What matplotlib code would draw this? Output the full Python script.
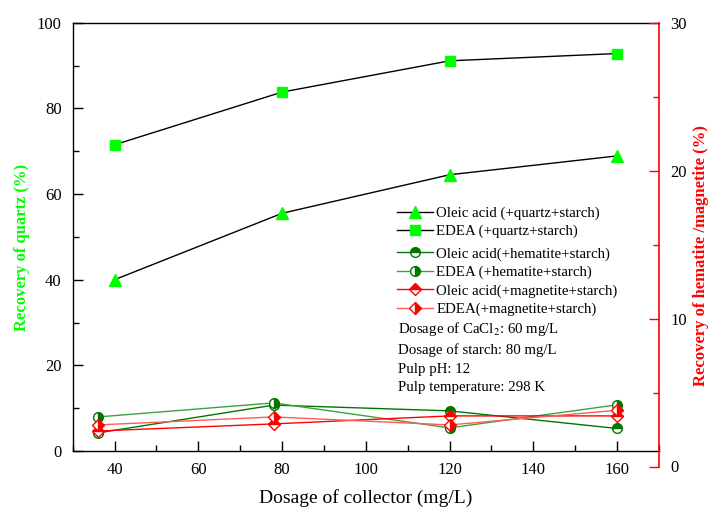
import matplotlib
matplotlib.use("Agg")
import matplotlib.pyplot as plt
from matplotlib.ticker import MultipleLocator

plt.rcParams['font.family'] = ['Liberation Serif', 'DejaVu Serif']
plt.rcParams['mathtext.fontset'] = 'stix'

# ---- data ----
dosage_quartz = [40, 80, 120, 160]
oleic_quartz = [40.0, 55.5, 64.5, 68.9]
edea_quartz = [71.5, 83.8, 91.1, 92.8]

dosage_iron = [36, 78, 120, 160]
oleic_hematite = [2.27, 4.15, 3.76, 2.57]
edea_hematite = [3.35, 4.3, 2.61, 4.17]
oleic_magnetite = [2.40, 2.88, 3.42, 3.42]
edea_magnetite = [2.81, 3.35, 2.81, 3.8]

x_ticks = [40, 60, 80, 100, 120, 140, 160]
left_ticks = [0, 20, 40, 60, 80, 100]
right_ticks = [0, 10, 20, 30]

labels = ["Oleic acid (+quartz+starch)", "EDEA (+quartz+starch)",
          "Oleic acid(+hematite+starch)", "EDEA (+hematite+starch)",
          "Oleic acid(+magnetite+starch)", "EDEA(+magnetite+starch)"]
notes = ["Dosage of CaCl$_2$: 60 mg/L", "Dosage of starch: 80 mg/L",
         "Pulp pH: 12", "Pulp temperature: 298 K"]

W, H = 710, 512
fig = plt.figure(figsize=(W / 100, H / 100), dpi=100)

L, R, T, B = 72.7, 659.0, 22.7, 451.0
B2 = 466.5
ax = fig.add_axes([L / W, 1 - B / H, (R - L) / W, (B - T) / H])
ax2 = fig.add_axes([L / W, 1 - B2 / H, (R - L) / W, (B2 - T) / H], facecolor='none')

QG = '#00ff00'
DG = '#007800'
LG = '#40a040'
RD = '#ff0000'
LR = '#ff5a5a'

ax.plot(dosage_quartz, oleic_quartz, color='black', lw=1.0, marker='^', ms=9,
        mfc=QG, mec=QG, label=labels[0])
ax.plot(dosage_quartz, edea_quartz, color='black', lw=1.0, marker='s', ms=7.5,
        mfc=QG, mec=QG, label=labels[1])

ax2.plot(dosage_iron, oleic_hematite, color=DG, lw=1.0, marker='o', ms=7,
         mfc=DG, mec=DG, mfcalt='white', fillstyle='top', mew=1.0, label=labels[2])
ax2.plot(dosage_iron, edea_hematite, color=LG, lw=1.0, marker='o', ms=7,
         mfc=DG, mec=DG, mfcalt='white', fillstyle='right', mew=1.0, label=labels[3])
ax2.plot(dosage_iron, oleic_magnetite, color=RD, lw=1.0, marker='D', ms=6.5,
         mfc=RD, mec=RD, mfcalt='white', fillstyle='top', mew=1.0, label=labels[4])
ax2.plot(dosage_iron, edea_magnetite, color=LR, lw=1.0, marker='D', ms=6.5,
         mfc=RD, mec=RD, mfcalt='white', fillstyle='right', mew=1.0, label=labels[5])

for a in (ax, ax2):
    a.set_xlim(30, 170)

ax.set_ylim(0, 100)
ax.set_xticks(x_ticks)
ax.xaxis.set_minor_locator(MultipleLocator(10))
ax.set_yticks(left_ticks)
ax.yaxis.set_minor_locator(MultipleLocator(10))
ax.tick_params(which='major', direction='in', length=7, width=1, labelsize=12, pad=8)
ax.tick_params(which='minor', direction='in', length=4, width=1)
ax.tick_params(axis='y', which='both', right=False)
ax.tick_params(axis='x', which='both', top=False)
ax.spines['right'].set_visible(False)
for s in ('left', 'bottom', 'top'):
    ax.spines[s].set_linewidth(1.0)

ax2.set_ylim(0, 30)
ax2.set_yticks(right_ticks)
ax2.yaxis.set_minor_locator(MultipleLocator(5))
ax2.xaxis.set_visible(False)
for s in ('left', 'bottom', 'top'):
    ax2.spines[s].set_visible(False)
ax2.spines['right'].set_color(RD)
ax2.spines['right'].set_linewidth(1.2)
ax2.yaxis.tick_right()
ax2.tick_params(axis='y', which='major', direction='in', length=7, width=1,
                color=RD, labelcolor='black', labelsize=12, pad=8)
ax2.tick_params(axis='y', which='minor', direction='in', length=4, width=1, color=RD)

ax.set_xlabel("Dosage of collector (mg/L)", fontsize=14, labelpad=8)
fig.text(21.7 / W, 1 - 247.5 / H, "Recovery of quartz (%)", fontsize=12,
         fontweight='bold', color=QG, rotation=90, ha='center', va='center')
fig.text(701.0 / W, 1 - 255.5 / H, "Recovery of hematite /magnetite (%)", fontsize=12,
         fontweight='bold', color=RD, rotation=90, ha='center', va='center')

leg_kw = dict(frameon=False, fontsize=10.7, handlelength=2.4, handletextpad=0.25,
              borderpad=0, borderaxespad=0, numpoints=1)
h1, l1 = ax.get_legend_handles_labels()
leg1 = ax.legend(h1, l1, loc='upper left', labelspacing=0.3,
                 bbox_to_anchor=(397 / W, 1 - 206.5 / H), bbox_transform=fig.transFigure, **leg_kw)
h2, l2 = ax2.get_legend_handles_labels()
leg2 = ax2.legend(h2, l2, loc='upper left', labelspacing=0.33,
                  bbox_to_anchor=(397 / W, 1 - 247 / H), bbox_transform=fig.transFigure, **leg_kw)

note_y = [329, 350.5, 369, 387.5]
for txt, yy in zip(notes, note_y):
    fig.text(398 / W, 1 - yy / H, txt, fontsize=10.7, va='center', ha='left')

fig.savefig("out.png", dpi=100)
